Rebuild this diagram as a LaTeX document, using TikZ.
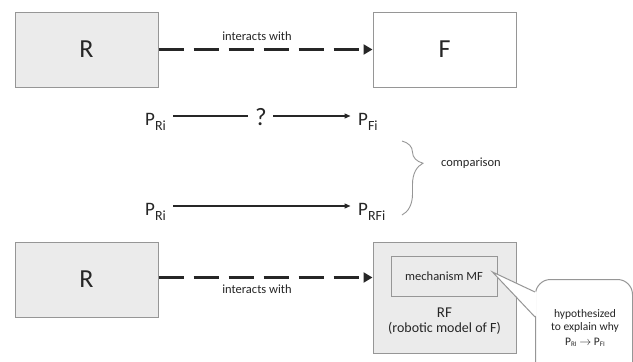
\documentclass[tikz,border=0pt]{standalone}
\usepackage{fontspec}
\setmainfont{Carlito}
\usetikzlibrary{arrows.meta,decorations.pathreplacing}

\definecolor{boxgray}{RGB}{235,235,235}
\definecolor{linegray}{RGB}{150,150,150}
\definecolor{inkgray}{RGB}{38,38,38}

\newcommand{\psub}[1]{P\raisebox{-5pt}{\fontsize{14}{14}\selectfont #1}}
\newcommand{\psmall}[1]{P\raisebox{-1.5pt}{\fontsize{7}{7}\selectfont #1}}

\tikzset{
  box/.style={draw=linegray, line width=1pt, minimum width=143pt, minimum height=75pt, inner sep=0pt, text=inkgray},
  bigletter/.style={font=\fontsize{26}{26}\selectfont},
  small/.style={text=inkgray, inner sep=0pt, font=\fontsize{12.5}{14}\selectfont},
  pnode/.style={text=inkgray, inner sep=0pt, font=\fontsize{19}{19}\selectfont},
  dasharrow/.style={line width=3pt, inkgray, dash pattern=on 25pt off 10pt, -{Triangle[length=9pt,width=10pt]}},
  thinline/.style={line width=1.3pt, inkgray},
  thinarrow/.style={thinline, -{Triangle[length=6pt,width=5pt]}}
}

\begin{document}
\begin{tikzpicture}[x=1pt,y=-1pt]
    \useasboundingbox (0,0) rectangle (633,362);
    \clip (0,0) rectangle (633,362);

    % top row: R interacts with F
    \node[box, bigletter, fill=boxgray] (rtop) at (86.5,49.5) {R};
    \node[box, bigletter, fill=white] (ftop) at (444.5,49.5) {F};
    \draw[dasharrow] (rtop.east) -- (ftop.west);
    \node[small] (lbltop) at (257,36) {interacts with};

    % behaviour rows
    \node[pnode, anchor=base west] (pr1) at (145,125) {\psub{Ri}};
    \node[pnode, anchor=base, font=\fontsize{25}{25}\selectfont] (quest) at (261,125) {?};
    \node[pnode, anchor=base west] (pf1) at (358,125) {\psub{Fi}};
    \draw[thinline] ([xshift=7pt,yshift=9pt]pr1.base east) -- ([xshift=-13pt,yshift=9pt]quest.base);
    \draw[thinarrow] ([xshift=12pt,yshift=9pt]quest.base) -- ([xshift=-7.5pt,yshift=9pt]pf1.base west);

    \node[pnode, anchor=base west] (pr2) at (145,215) {\psub{Ri}};
    \node[pnode, anchor=base west] (prf) at (358,215) {\psub{RFi}};
    \draw[thinarrow] ([xshift=7pt,yshift=9pt]pr2.base east) -- ([xshift=-7.5pt,yshift=9pt]prf.base west);

    % comparison brace
    \coordinate (bracetop) at (402,141);
    \coordinate (bracebot) at (402,215);
    \draw[linegray, line width=0.9pt, decorate, decoration={brace, amplitude=21pt, aspect=0.3}] (bracetop) -- (bracebot);
    \node[small] (cmp) at (471,163) {comparison};

    % bottom row: R interacts with RF
    \node[box, bigletter, fill=boxgray] (rbot) at (86.5,279.5) {R};
    \node[box, fill=boxgray, minimum height=111pt] (rf) at (444.5,297.5) {};
    \node[box, small, fill=boxgray, minimum width=106pt, minimum height=40pt] (mf) at (444,276) {mechanism MF};
    \node[text=inkgray, inner sep=0pt, font=\fontsize{15}{15}\selectfont] (rflbl) at (444.5,313) {RF};
    \node[text=inkgray, inner sep=0pt, font=\fontsize{14}{14}\selectfont] (rfsub) at (444.5,328) {(robotic model of F)};
    \draw[dasharrow] ([yshift=2pt]rbot.east) -- ([yshift=2pt]rbot.east -| rf.west);
    \node[small] (lblbot) at (257,289) {interacts with};

    % callout
    \node[draw=linegray, line width=1pt, fill=white, rounded corners=15pt, minimum width=97pt, minimum height=110pt, anchor=north west] (hyp) at (535,279) {};
    \coordinate (tip) at ([xshift=-5pt,yshift=4pt]mf.east);
    \fill[white] (tip) -- ([xshift=1.5pt,yshift=-13pt]hyp.north west) -- ([xshift=1.5pt,yshift=-38pt]hyp.north west) -- cycle;
    \draw[linegray, line width=1pt] ([yshift=-13pt]hyp.north west) -- (tip) -- ([yshift=-38pt]hyp.north west);
    \node[text=inkgray, inner sep=0pt, align=center, font=\fontsize{11.5}{13.5}\selectfont] (hyptxt) at (585,328) {hypothesized\\to explain why\\[1pt]\psmall{RI} $\rightarrow$ \psmall{FI}};
\end{tikzpicture}
\end{document}
